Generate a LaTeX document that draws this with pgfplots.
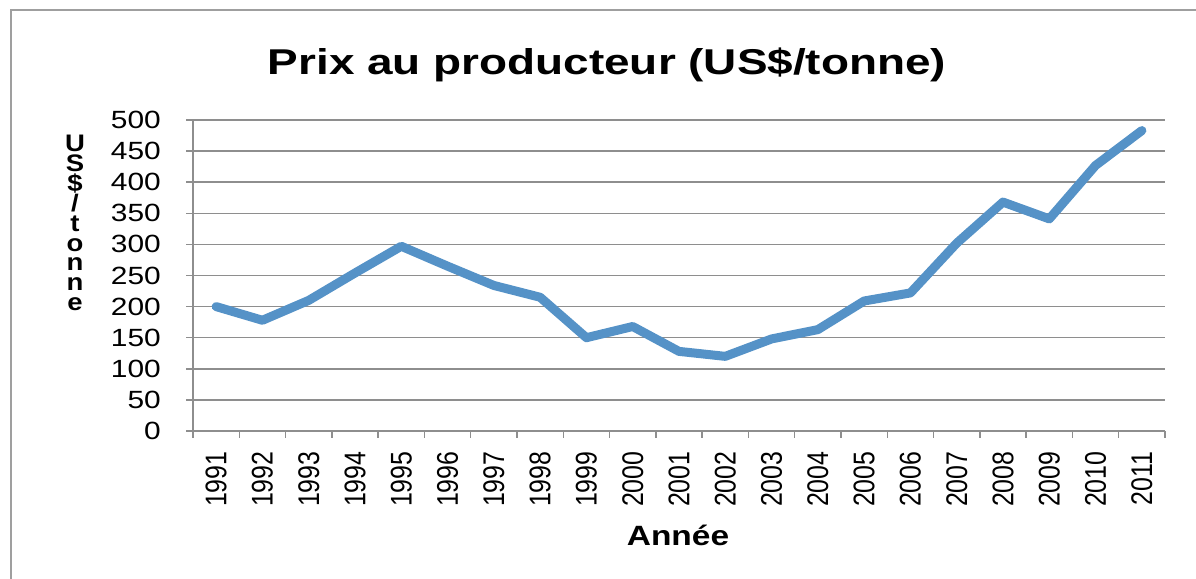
\documentclass[border=0pt]{standalone}
\usepackage{pgfplots}
\pgfplotsset{compat=1.18}
\usepackage{fontspec}
\setmainfont{Liberation Sans}
\definecolor{serie}{HTML}{5592C7}
\definecolor{grille}{HTML}{8E8E8E}
\begin{document}
\begin{tikzpicture}
\path[use as bounding box] (0bp,0bp) rectangle (1196bp,579bp);
\draw[color=grille!85, line width=2bp] (11bp,0bp) -- (11bp,569bp) -- (1196bp,569bp);
\begin{axis}[
  at={(193bp,148bp)}, anchor=south west,
  width=972bp, height=311bp, scale only axis,
  xmin=-0.5, xmax=20.5, ymin=0, ymax=500,
  axis lines*=left,
  axis line style={grille, line width=1.5bp, -},
  xtick={0,...,20},
  xticklabels={1991,1992,1993,1994,1995,1996,1997,1998,1999,2000,2001,2002,2003,2004,2005,2006,2007,2008,2009,2010,2011},
  minor xtick={-0.5,0.5,...,20.5},
  ytick={0,50,...,500},
  /pgf/number format/assume math mode=true,
  tick align=outside,
  major tick length=7bp, minor tick length=7bp,
  major x tick style={draw=none},
  minor x tick style={draw=grille, line width=1.5bp},
  major y tick style={draw=grille, line width=1.5bp},
  ymajorgrids,
  grid style={grille, line width=1.5bp},
  tick label style={font=\fontsize{25}{25}\selectfont},
  yticklabel style={anchor=east, xshift=-21bp, xscale=1.2},
  xticklabel style={rotate=90, anchor=east, xshift=-10bp, yscale=1.2},
  clip=false,
]
\addplot[serie, line width=9bp, line join=round, line cap=round] coordinates {
(0,200) (1,178) (2,210) (3,254) (4,297) (5,265) (6,234) (7,215) (8,150) (9,168)
(10,128) (11,120) (12,148) (13,163) (14,209) (15,222) (16,302) (17,368) (18,341)
(19,427) (20,483)};
\end{axis}
\node[font=\bfseries\fontsize{36}{36}\selectfont, xscale=1.28] at (607bp,514bp) {Prix au producteur (US\$/tonne)};
\node[font=\bfseries\fontsize{24}{20}\selectfont, align=center, xscale=1.15] at (75bp,356bp) {U\\S\\\$\\/\\t\\o\\n\\n\\e};
\node[font=\bfseries\fontsize{28}{28}\selectfont, xscale=1.2] at (678bp,44bp) {Année};
\end{tikzpicture}
\end{document}
